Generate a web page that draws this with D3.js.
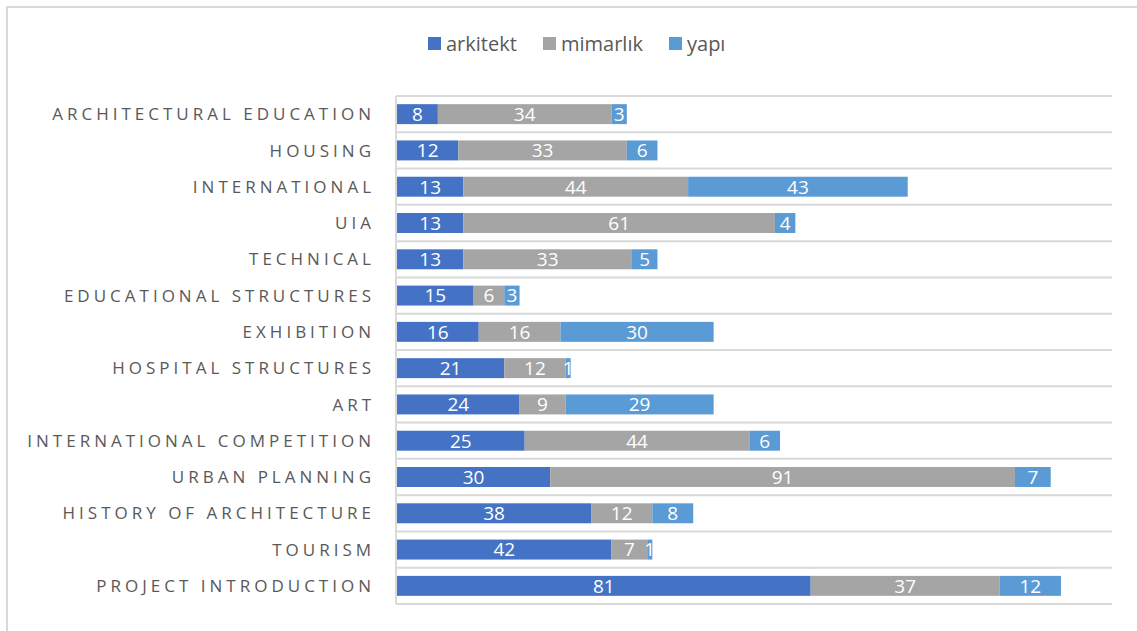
<!DOCTYPE html>
<html><head><meta charset="utf-8">
<script src="https://cdn.jsdelivr.net/npm/d3@7"></script>
<style>body{margin:0;background:#fff}svg{display:block}</style>
</head><body>
<svg id="c" width="1137" height="631"></svg>
<script>
const categories = ["ARCHITECTURAL EDUCATION","HOUSING","INTERNATIONAL","UIA","TECHNICAL","EDUCATIONAL STRUCTURES","EXHIBITION","HOSPITAL STRUCTURES","ART","INTERNATIONAL COMPETITION","URBAN PLANNING","HISTORY OF ARCHITECTURE","TOURISM","PROJECT INTRODUCTION"];
const seriesNames = ["arkitekt","mimarlık","yapı"];
const arkitekt = [8,12,13,13,13,15,16,21,24,25,30,38,42,81];
const mimarlik = [34,33,44,61,33,6,16,12,9,44,91,12,7,37];
const yapi = [3,6,43,4,5,3,30,1,29,6,7,8,1,12];
const colors = ["#4472C4","#A5A5A5","#5B9BD5"];
const xMax = 140;

(function(){
const svg = d3.select("#c");
svg.append("rect").attr("x",7).attr("y",7).attr("width",1140).attr("height",640)
  .attr("fill","#fff").attr("stroke","#d9d9d9").attr("stroke-width",2);

const pL = 397, pR = 1112, pT = 96, pB = 604;
const x = d3.scaleLinear().domain([0,xMax]).range([pL,pR]);
const y = d3.scaleBand().domain(categories).range([pT,pB]).paddingInner(0.45).paddingOuter(0.225);

const bounds = d3.range(categories.length+1).map(i => pT + i*(pB-pT)/categories.length);
svg.append("g").selectAll("line").data(bounds).join("line")
  .attr("x1",pL-1).attr("x2",pR).attr("y1",d=>d).attr("y2",d=>d)
  .attr("stroke","#d9d9d9").attr("stroke-width",2);
svg.append("line").attr("x1",pL-1).attr("x2",pL-1).attr("y1",pT).attr("y2",pB)
  .attr("stroke","#d9d9d9").attr("stroke-width",2);

const table = categories.map((c,i)=>({cat:c, arkitekt:arkitekt[i], "mimarlık":mimarlik[i], "yapı":yapi[i]}));
const stacked = d3.stack().keys(seriesNames)(table);

const g = svg.append("g");
stacked.forEach((s,si)=>{
  const sg = g.append("g");
  sg.selectAll("rect").data(s).join("rect")
    .attr("x",d=>x(d[0])).attr("width",d=>x(d[1])-x(d[0]))
    .attr("y",d=>y(d.data.cat)).attr("height",y.bandwidth())
    .attr("fill",colors[si]);
  sg.selectAll("text").data(s).join("text")
    .attr("x",d=>(x(d[0])+x(d[1]))/2).attr("y",d=>y(d.data.cat)+y.bandwidth()/2)
    .attr("dy","0.36em").attr("text-anchor","middle")
    .attr("fill","#fff").attr("font-family","'Open Sans', sans-serif").attr("font-size",19)
    .text(d=>d[1]-d[0]);
});

const axis = d3.axisLeft(y).tickSize(0).tickPadding(0);
const ag = svg.append("g").attr("transform",`translate(${pL-22},0)`).call(axis);
ag.select(".domain").remove();
ag.selectAll("text").attr("fill","#595959").attr("font-family","'Open Sans', sans-serif")
  .attr("font-size",17).attr("letter-spacing","4px").attr("dx","0px").attr("dy","0.36em");

const legX = [428,543,669];
const lg = svg.append("g");
seriesNames.forEach((n,i)=>{
  lg.append("rect").attr("x",legX[i]).attr("y",37).attr("width",13).attr("height",13).attr("fill",colors[i]);
  lg.append("text").attr("x",legX[i]+18).attr("y",44).attr("dy","0.36em")
    .attr("fill","#595959").attr("font-family","'Open Sans', sans-serif").attr("font-size",20).text(n);
});
})();
</script>
</body></html>
